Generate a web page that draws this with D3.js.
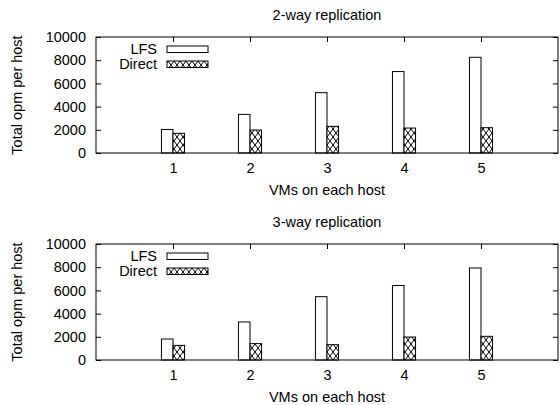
<!DOCTYPE html>
<html>
<head>
<meta charset="utf-8">
<script src="https://cdn.jsdelivr.net/npm/d3@7"></script>
<style>
  body { margin: 0; background: #fff; }
  text { font-family: "Liberation Sans", Arial, sans-serif; font-size: 14.5px; fill: #000; }
</style>
</head>
<body>
<div class="chart"></div>
<script>
const vms = [1, 2, 3, 4, 5];
const yTicks = [0, 2000, 4000, 6000, 8000, 10000];
const titles = ["2-way replication", "3-way replication"];
const lfs2 = [2030, 3330, 5200, 7020, 8250];
const direct2 = [1700, 1980, 2300, 2150, 2180];
const lfs3 = [1810, 3280, 5460, 6420, 7930];
const direct3 = [1260, 1410, 1320, 1980, 2040];

const svg = d3.select(".chart").append("svg")
    .attr("width", 560).attr("height", 405);

const defs = svg.append("defs");
const pat = defs.append("pattern")
    .attr("id", "xhatch")
    .attr("patternUnits", "userSpaceOnUse")
    .attr("width", 6).attr("height", 8);
pat.append("rect").attr("width", 6).attr("height", 8).attr("fill", "#fff");
pat.append("path")
    .attr("d", "M0,0L6,8M6,0L0,8")
    .attr("stroke", "#000").attr("stroke-width", 1);

const margin = { left: 96, right: 2 };
const width = 560 - margin.left - margin.right;
const height = 116;

const x = d3.scaleLinear().domain([0, 6]).range([0, width]);
const y = d3.scaleLinear().domain([0, 10000]).range([height, 0]);
const bw = x(0.15) - x(0);

function panel(top, title, lfs, direct) {
    const g = svg.append("g").attr("transform", "translate(" + margin.left + "," + top + ")");

    // ticks on all four sides, like gnuplot
    g.append("g").call(d3.axisLeft(y).tickValues(yTicks).tickSize(-5).tickPadding(10).tickFormat(d3.format("d")))
        .call(a => a.select(".domain").remove());
    g.append("g").attr("transform", "translate(" + width + ",0)")
        .call(d3.axisRight(y).tickValues(yTicks).tickSize(-5).tickFormat(""))
        .call(a => a.select(".domain").remove());
    g.append("g").attr("transform", "translate(0," + height + ")")
        .call(d3.axisBottom(x).tickValues(vms).tickSize(-5).tickPadding(10).tickFormat(d3.format("d")))
        .call(a => a.select(".domain").remove());
    g.append("g")
        .call(d3.axisTop(x).tickValues(vms).tickSize(-5).tickFormat(""))
        .call(a => a.select(".domain").remove());
    g.selectAll(".tick text")
        .style("font-size", "14.5px")
        .style("font-family", "Liberation Sans, Arial, sans-serif");
    g.selectAll(".tick line").attr("stroke", "#000");

    g.selectAll(".lfs").data(lfs).enter().append("rect")
        .attr("x", (d, i) => x(vms[i]) - bw)
        .attr("y", d => y(d))
        .attr("width", bw)
        .attr("height", d => height - y(d))
        .attr("fill", "#fff").attr("stroke", "#000").attr("stroke-width", 1);

    g.selectAll(".direct").data(direct).enter().append("rect")
        .attr("x", (d, i) => x(vms[i]))
        .attr("y", d => y(d))
        .attr("width", bw)
        .attr("height", d => height - y(d))
        .attr("fill", "url(#xhatch)").attr("stroke", "#000").attr("stroke-width", 1);

    g.append("rect").attr("width", width).attr("height", height)
        .attr("fill", "none").attr("stroke", "#000").attr("stroke-width", 1);

    // legend
    const leg = [["LFS", "#fff"], ["Direct", "url(#xhatch)"]];
    leg.forEach((l, i) => {
        g.append("text").attr("x", 61).attr("y", 17 + i * 15)
            .attr("text-anchor", "end").text(l[0]);
        g.append("rect").attr("x", 71).attr("y", 9 + i * 15)
            .attr("width", 41).attr("height", 6.5)
            .attr("fill", l[1]).attr("stroke", "#000");
    });

    svg.append("text").attr("x", margin.left + width / 2).attr("y", top - 17)
        .attr("text-anchor", "middle").text(title);
    svg.append("text").attr("x", margin.left + width / 2).attr("y", top + height + 42)
        .attr("text-anchor", "middle").text("VMs on each host");
    svg.append("text")
        .attr("transform", "translate(22," + (top + height / 2) + ") rotate(-90)")
        .attr("text-anchor", "middle").text("Total opm per host");
}

panel(37, titles[0], lfs2, direct2);
panel(244, titles[1], lfs3, direct3);
</script>
</body>
</html>
